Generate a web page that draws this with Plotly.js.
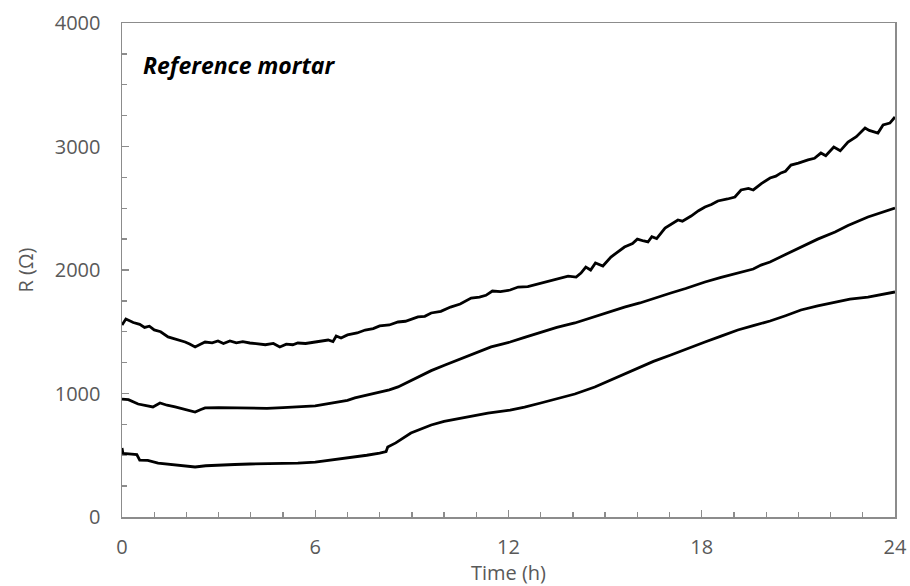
<!DOCTYPE html>
<html>
<head>
<meta charset="utf-8">
<script src="https://cdn.plot.ly/plotly-3.0.1.min.js"></script>
<style>html,body{margin:0;padding:0;background:#fff;}#chart{width:910px;height:586px;}</style>
</head>
<body>
<div id="chart"></div>
<script>
// Time (h) and resistance R (Ω) for three curves
const timeTop = [0,0.12,0.35,0.55,0.7,0.85,1.0,1.2,1.43,1.7,1.96,2.1,2.27,2.45,2.58,2.8,2.98,3.15,3.35,3.55,3.75,3.97,4.2,4.45,4.7,4.9,5.1,5.3,5.46,5.7,6.0,6.2,6.4,6.55,6.65,6.8,7.0,7.3,7.55,7.8,8.0,8.3,8.57,8.8,9.0,9.19,9.4,9.6,9.9,10.2,10.5,10.84,11.1,11.3,11.5,11.75,12.05,12.3,12.6,12.9,13.2,13.5,13.85,14.1,14.25,14.4,14.55,14.7,14.93,15.18,15.4,15.6,15.85,16.0,16.2,16.33,16.45,16.6,16.86,17.05,17.26,17.4,17.67,17.9,18.1,18.3,18.5,18.8,19.03,19.22,19.45,19.6,19.85,20.12,20.3,20.46,20.6,20.77,21.0,21.3,21.5,21.7,21.85,22.1,22.3,22.54,22.8,23.07,23.2,23.47,23.63,23.84,24.0];
const rTop = [1555,1603,1575,1560,1535,1545,1515,1500,1458,1440,1417,1400,1377,1400,1417,1410,1425,1405,1425,1410,1420,1409,1400,1395,1405,1377,1400,1395,1409,1405,1417,1425,1433,1420,1466,1450,1474,1490,1514,1525,1547,1555,1579,1585,1600,1620,1625,1652,1665,1700,1725,1773,1780,1795,1830,1825,1838,1862,1865,1885,1903,1925,1951,1943,1975,2024,2000,2057,2032,2105,2145,2186,2215,2250,2235,2227,2270,2255,2340,2370,2405,2395,2437,2480,2510,2530,2559,2575,2591,2648,2660,2648,2700,2745,2760,2786,2800,2850,2865,2891,2905,2947,2925,2996,2965,3036,3080,3150,3130,3109,3174,3190,3239];

const timeMid = [0,0.2,0.5,0.75,0.96,1.18,1.4,1.65,1.95,2.27,2.45,2.58,3.0,3.5,3.97,4.5,5.0,5.46,6.0,6.5,7.0,7.23,7.6,8.0,8.3,8.57,8.9,9.19,9.6,10.03,10.4,10.84,11.15,11.46,11.8,12.05,12.5,13.0,13.5,14.06,14.6,15.1,15.6,16.08,16.5,17.04,17.5,18.1,18.6,19.12,19.6,19.84,20.12,20.6,21.08,21.6,22.14,22.54,23.16,23.6,24.0];
const rMid = [955,950,915,905,891,923,905,891,870,850,870,883,885,883,883,880,885,891,900,923,945,964,985,1012,1030,1053,1095,1134,1185,1231,1270,1312,1345,1377,1400,1417,1455,1498,1535,1571,1615,1660,1700,1733,1770,1814,1850,1903,1940,1976,2008,2040,2065,2125,2186,2250,2308,2360,2429,2465,2502];

const timeLow = [0,0.03,0.3,0.46,0.55,0.8,1.12,1.6,2.0,2.27,2.6,3.0,3.5,3.97,4.5,5.0,5.46,6.0,6.5,7.0,7.23,7.6,8.0,8.2,8.25,8.5,8.97,9.3,9.6,10.0,10.52,11.0,11.36,12.05,12.5,13.0,13.5,14.06,14.68,15.1,15.6,16.08,16.5,17.04,17.5,18.1,18.6,19.12,19.6,20.12,20.6,21.08,21.6,22.14,22.6,23.16,23.6,24.0];
const rLow = [559,515,510,505,460,458,437,425,412,405,415,421,425,429,432,433,437,445,461,475,486,500,518,530,567,600,680,715,745,775,802,825,842,866,890,923,955,996,1053,1101,1160,1215,1260,1312,1360,1417,1465,1514,1550,1587,1630,1676,1710,1741,1765,1781,1805,1822];

const xTicks = [0,6,12,18,24];
const yTicks = [0,1000,2000,3000,4000];
const chartLabel = "Reference mortar";

const lineStyle = {color:'#000000', width:2.8};
const traces = [
  {x:timeTop, y:rTop, mode:'lines', line:lineStyle, name:'Top'},
  {x:timeMid, y:rMid, mode:'lines', line:lineStyle, name:'Middle'},
  {x:timeLow, y:rLow, mode:'lines', line:lineStyle, name:'Bottom'}
];

const axisColor = '#8c8c8c';
const tickFont = {family:'Open Sans, sans-serif', size:20, color:'#595959'};

const layout = {
  width:910, height:586,
  margin:{l:122, r:15, t:23, b:69},
  paper_bgcolor:'#ffffff', plot_bgcolor:'#ffffff',
  showlegend:false,
  xaxis:{
    range:[0,24], tickvals:xTicks, ticktext:xTicks.map(String),
    showgrid:false, zeroline:false,
    showline:true, linecolor:axisColor, linewidth:1.5, mirror:true,
    ticks:'inside', ticklen:7, tickwidth:1.3, tickcolor:axisColor,
    minor:{dtick:1, ticks:'inside', ticklen:5, tickwidth:1.3, tickcolor:axisColor, showgrid:false},
    tickfont:tickFont, ticklabelstandoff:11,
    title:{text:'Time (h)', font:{family:'Open Sans, sans-serif', size:20, color:'#595959'}, standoff:4}
  },
  yaxis:{
    range:[0,4000], tickvals:yTicks, ticktext:yTicks.map(String),
    showgrid:false, zeroline:false,
    showline:true, linecolor:axisColor, linewidth:1.5, mirror:true,
    ticks:'inside', ticklen:7, tickwidth:1.3, tickcolor:axisColor,
    minor:{dtick:250, ticks:'inside', ticklen:5, tickwidth:1.3, tickcolor:axisColor, showgrid:false},
    tickfont:tickFont, ticklabelstandoff:16,
    title:{text:'R (Ω)', font:{family:'Open Sans, sans-serif', size:20, color:'#595959'}, standoff:16}
  },
  annotations:[{
    text:'<b><i>'+chartLabel+'</i></b>', xref:'paper', yref:'paper',
    x:0.024, y:0.915, xanchor:'left', yanchor:'middle', showarrow:false,
    font:{family:'Open Sans, sans-serif', size:23, color:'#000000'}
  }]
};

Plotly.newPlot('chart', traces, layout, {displayModeBar:false, staticPlot:true});
</script>
</body>
</html>
